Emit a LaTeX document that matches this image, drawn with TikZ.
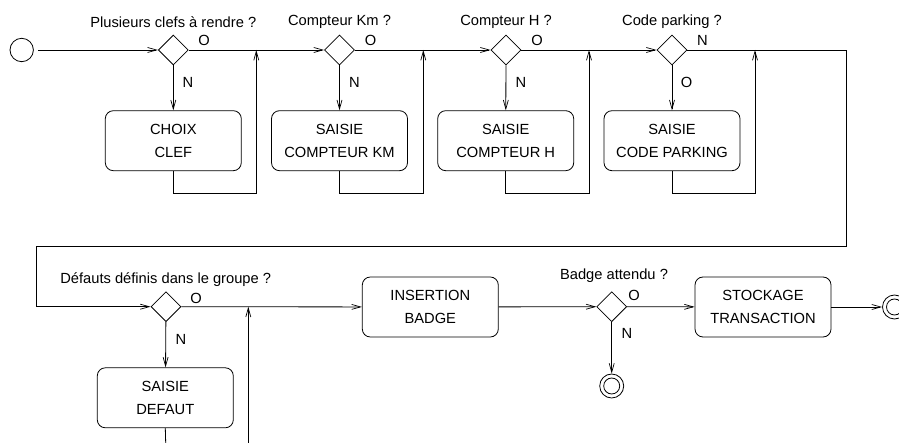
\documentclass[tikz,border=0pt]{standalone}
\usepackage{fontspec}
\setmainfont{Liberation Sans}
\usetikzlibrary{shapes.geometric,arrows.meta}
\begin{document}
\begin{tikzpicture}[x=1pt,y=-1pt,line width=0.8pt,
  every node/.style={font=\fontsize{14.7}{23.3}\selectfont},
  arr/.style={-{Straight Barb[length=9pt,width=5pt,line width=0.7pt]}},
  dec/.style={draw,diamond,aspect=1,minimum width=30pt,minimum height=30pt,inner sep=0pt},
  act/.style={draw,rectangle,rounded corners=8pt,minimum width=136pt,minimum height=60pt,align=center,inner sep=2pt},
  initst/.style={draw,circle,minimum size=23.4pt,inner sep=0pt},
  finalst/.style={draw,circle,minimum size=24pt,inner sep=0pt,
     path picture={\draw[line width=0.8pt] (path picture bounding box.center) circle (8pt);}},
  lbl/.style={inner sep=0pt}]
\useasboundingbox (0,0) rectangle (899,443);
\clip (0,0) rectangle (899,443);
% row 1
\node[initst] (init) at (21.7,50) {};
\node[dec] (d1) at (173.3,50) {};
\node[dec] (d2) at (339.5,50) {};
\node[dec] (d3) at (506,50) {};
\node[dec] (d4) at (672,50) {};
\node[act] (b1) at (173.3,140.7) {CHOIX\\CLEF};
\node[act] (b2) at (339.5,140.7) {SAISIE\\COMPTEUR KM};
\node[act] (b3) at (505.7,140.7) {SAISIE\\COMPTEUR H};
\node[act] (b4) at (672,140.7) {SAISIE\\CODE PARKING};
\node[lbl] (q1) at (173.3,22) {Plusieurs clefs à rendre ?};
\node[lbl] (q2) at (339.5,22) {Compteur Km ?};
\node[lbl] (q3) at (506,22) {Compteur H ?};
\node[lbl] (q4) at (672,22) {Code parking ?};
\node[lbl] (o1) at (204,40.5) {O};
\node[lbl] (n1) at (188,82.5) {N};
\node[lbl] (o2) at (370.5,40.5) {O};
\node[lbl] (n2) at (354.5,82.5) {N};
\node[lbl] (o3) at (537,40.5) {O};
\node[lbl] (n3) at (521,82.5) {N};
\node[lbl] (n4) at (702.5,40.5) {N};
\node[lbl] (o4) at (686.5,82.5) {O};
\coordinate (j1) at (256.3,50);
\coordinate (c1) at (256.3,193.3);
\coordinate (j2) at (423.3,50);
\coordinate (c2) at (423.3,193.3);
\coordinate (j3) at (589,50);
\coordinate (c3) at (589,193.3);
\coordinate (j4) at (755,50);
\coordinate (c4) at (755,193.3);
\coordinate (r1) at (846,50);
\coordinate (r2) at (846,246);
\coordinate (l1) at (36.7,246);
\coordinate (l2) at (36.7,306.7);
% row 2
\node[dec] (d5) at (166,306.7) {};
\node[act] (b5) at (165.3,397.8) {SAISIE\\DEFAUT};
\node[act] (b6) at (430.3,307) {INSERTION\\BADGE};
\node[dec] (d6) at (611.7,306.7) {};
\node[act] (b7) at (763,307) {STOCKAGE\\TRANSACTION};
\node[finalst] (f1) at (611.7,386) {};
\node[finalst] (f2) at (894.5,307) {};
\node[lbl] (q5) at (165.7,279.3) {Défauts définis dans le groupe ?};
\node[lbl] (q6) at (614,276) {Badge attendu ?};
\node[lbl] (o5) at (196,298) {O};
\node[lbl] (n5) at (181,339) {N};
\node[lbl] (o6) at (634,295) {O};
\node[lbl] (n6) at (627,333) {N};
\coordinate (j5) at (248.3,306.7);
\coordinate (e5) at (248.3,443);
\coordinate (e6) at (165.7,443);
% connectors row 1
\draw[arr,shorten <=4pt] (init) -- (d1);
\draw[arr] (d1) -- (d2);
\draw[arr] (d2) -- (d3);
\draw[arr] (d3) -- (d4);
\draw (d4) -- (r1) -- (r2) -- (l1) -- (l2);
\draw[arr] (l2) -- (d5);
\draw[arr] (d1) -- (b1);
\draw[arr] (d2) -- (b2);
\draw[arr] (d3) -- (b3);
\draw[arr] (d4) -- (b4);
\draw[arr] (b1.south) |- (c1) -- (j1);
\draw[arr] (b2.south) |- (c2) -- (j2);
\draw[arr] (b3.south) |- (c3) -- (j3);
\draw[arr] (b4.south) |- (c4) -- (j4);
% connectors row 2
\draw[arr] (d5) -- (b5);
\draw (b5.south) -- (e6);
\draw[arr] (e5) -- (j5);
\draw[arr] (d5) -- (b6);
\draw[arr] (b6) -- (d6);
\draw[arr] (d6) -- (b7);
\draw[arr] (d6) -- (f1);
\draw[arr] (b7) -- (f2);
\end{tikzpicture}
\end{document}
